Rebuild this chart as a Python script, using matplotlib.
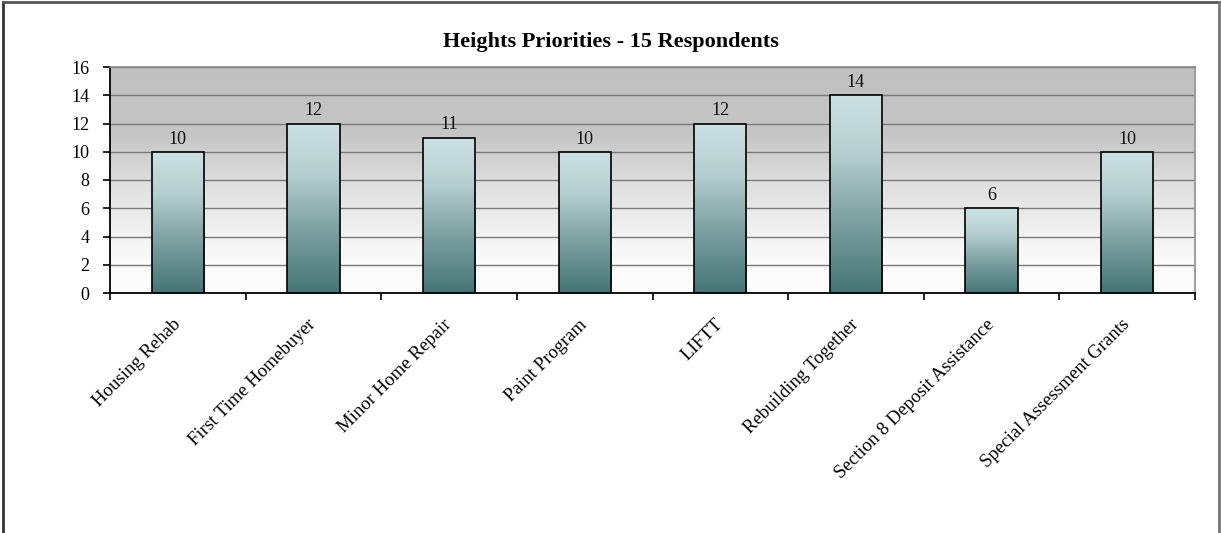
import numpy as np
import matplotlib
matplotlib.use("Agg")
import matplotlib.pyplot as plt
from matplotlib.colors import LinearSegmentedColormap
from matplotlib.lines import Line2D

categories = ["Housing Rehab", "First Time Homebuyer", "Minor Home Repair",
              "Paint Program", "LIFTT", "Rebuilding Together",
              "Section 8 Deposit Assistance", "Special Assessment Grants"]
values = [10, 12, 11, 10, 12, 14, 6, 10]
yticks = [0, 2, 4, 6, 8, 10, 12, 14, 16]
title = "Heights Priorities - 15 Respondents"

serif = ["Liberation Serif", "DejaVu Serif"]
plt.rcParams["font.family"] = serif

fig = plt.figure(figsize=(12.21, 5.33), dpi=100)
ax = fig.add_axes([110/1221, 1 - 293/533, (1195-110)/1221, (293-67)/533])

n = len(categories)
x = np.arange(n)
ax.set_xlim(-0.5, n - 0.5)
ax.set_ylim(0, 16)

# background gradient
bg_cmap = LinearSegmentedColormap.from_list(
    "bg", [(0.0, "#fefefe"), (0.2, "#f7f7f7"), (0.45, "#e2e2e2"),
           (0.7, "#c6c6c6"), (1.0, "#c0c0c0")])
grad = np.linspace(0, 1, 256).reshape(-1, 1)
ax.imshow(grad, cmap=bg_cmap, origin="lower", aspect="auto",
          extent=[-0.5, n - 0.5, 0, 16], zorder=0, interpolation="bicubic")

# gridlines
for t in yticks[1:]:
    ax.axhline(t, color="#7a7a7a", lw=1.0, zorder=1)

# bars
bw = 0.385
bar_cmap = LinearSegmentedColormap.from_list(
    "bar", [(0.0, "#467575"), (0.4, "#82a4a5"), (0.7, "#b6cecf"), (1.0, "#cde1e3")])
bars = ax.bar(x, values, width=bw, facecolor="none", edgecolor="black",
              lw=1.2, zorder=3)
for b in bars:
    x0, y0 = b.get_x(), b.get_y()
    w, h = b.get_width(), b.get_height()
    im = ax.imshow(grad, cmap=bar_cmap, origin="lower", aspect="auto",
                   extent=[x0, x0 + w, y0, y0 + h], zorder=2,
                   interpolation="bicubic")
    im.set_clip_path(b)
    ax.annotate(f"{int(h)}", (x0 + w/2, y0 + h), xytext=(0, 3),
                textcoords="offset points", ha="center", va="bottom",
                fontsize=13, color="#111111", zorder=4)
ax.set_xlim(-0.5, n - 0.5)
ax.set_ylim(0, 16)

# axes styling
ax.spines["left"].set_color("black")
ax.spines["bottom"].set_color("black")
ax.spines["left"].set_linewidth(1.3)
ax.spines["bottom"].set_linewidth(1.3)
ax.spines["top"].set_color("#8a8a8a")
ax.spines["right"].set_color("#a0a0a0")
ax.spines["top"].set_linewidth(1.2)
ax.spines["right"].set_linewidth(1.5)

ax.set_yticks(yticks)
ax.set_yticklabels([str(t) for t in yticks], fontsize=13)
ax.tick_params(axis="y", direction="out", length=5, width=1.2, pad=10)

ax.set_xticks(x)
ax.set_xticks(np.arange(n + 1) - 0.5, minor=True)
ax.tick_params(axis="x", which="major", length=0, pad=21)
ax.tick_params(axis="x", which="minor", direction="out", length=5, width=1.2)
ax.set_xticklabels(categories, rotation=45, ha="right", va="center",
                   rotation_mode="anchor", fontsize=13.5)

fig.text(0.5, 1 - 42/533, title, ha="center", va="center",
         fontsize=16, fontweight="bold")

# outer border
fig.add_artist(Line2D([3/1221, 3/1221], [0, 1 - 2/533], color="#333333", lw=2))
fig.add_artist(Line2D([3/1221, 1219/1221], [1 - 2/533, 1 - 2/533], color="#555555", lw=2))
fig.add_artist(Line2D([1219/1221, 1219/1221], [0, 1 - 2/533], color="#777777", lw=2))

fig.savefig("out.png", dpi=100)
